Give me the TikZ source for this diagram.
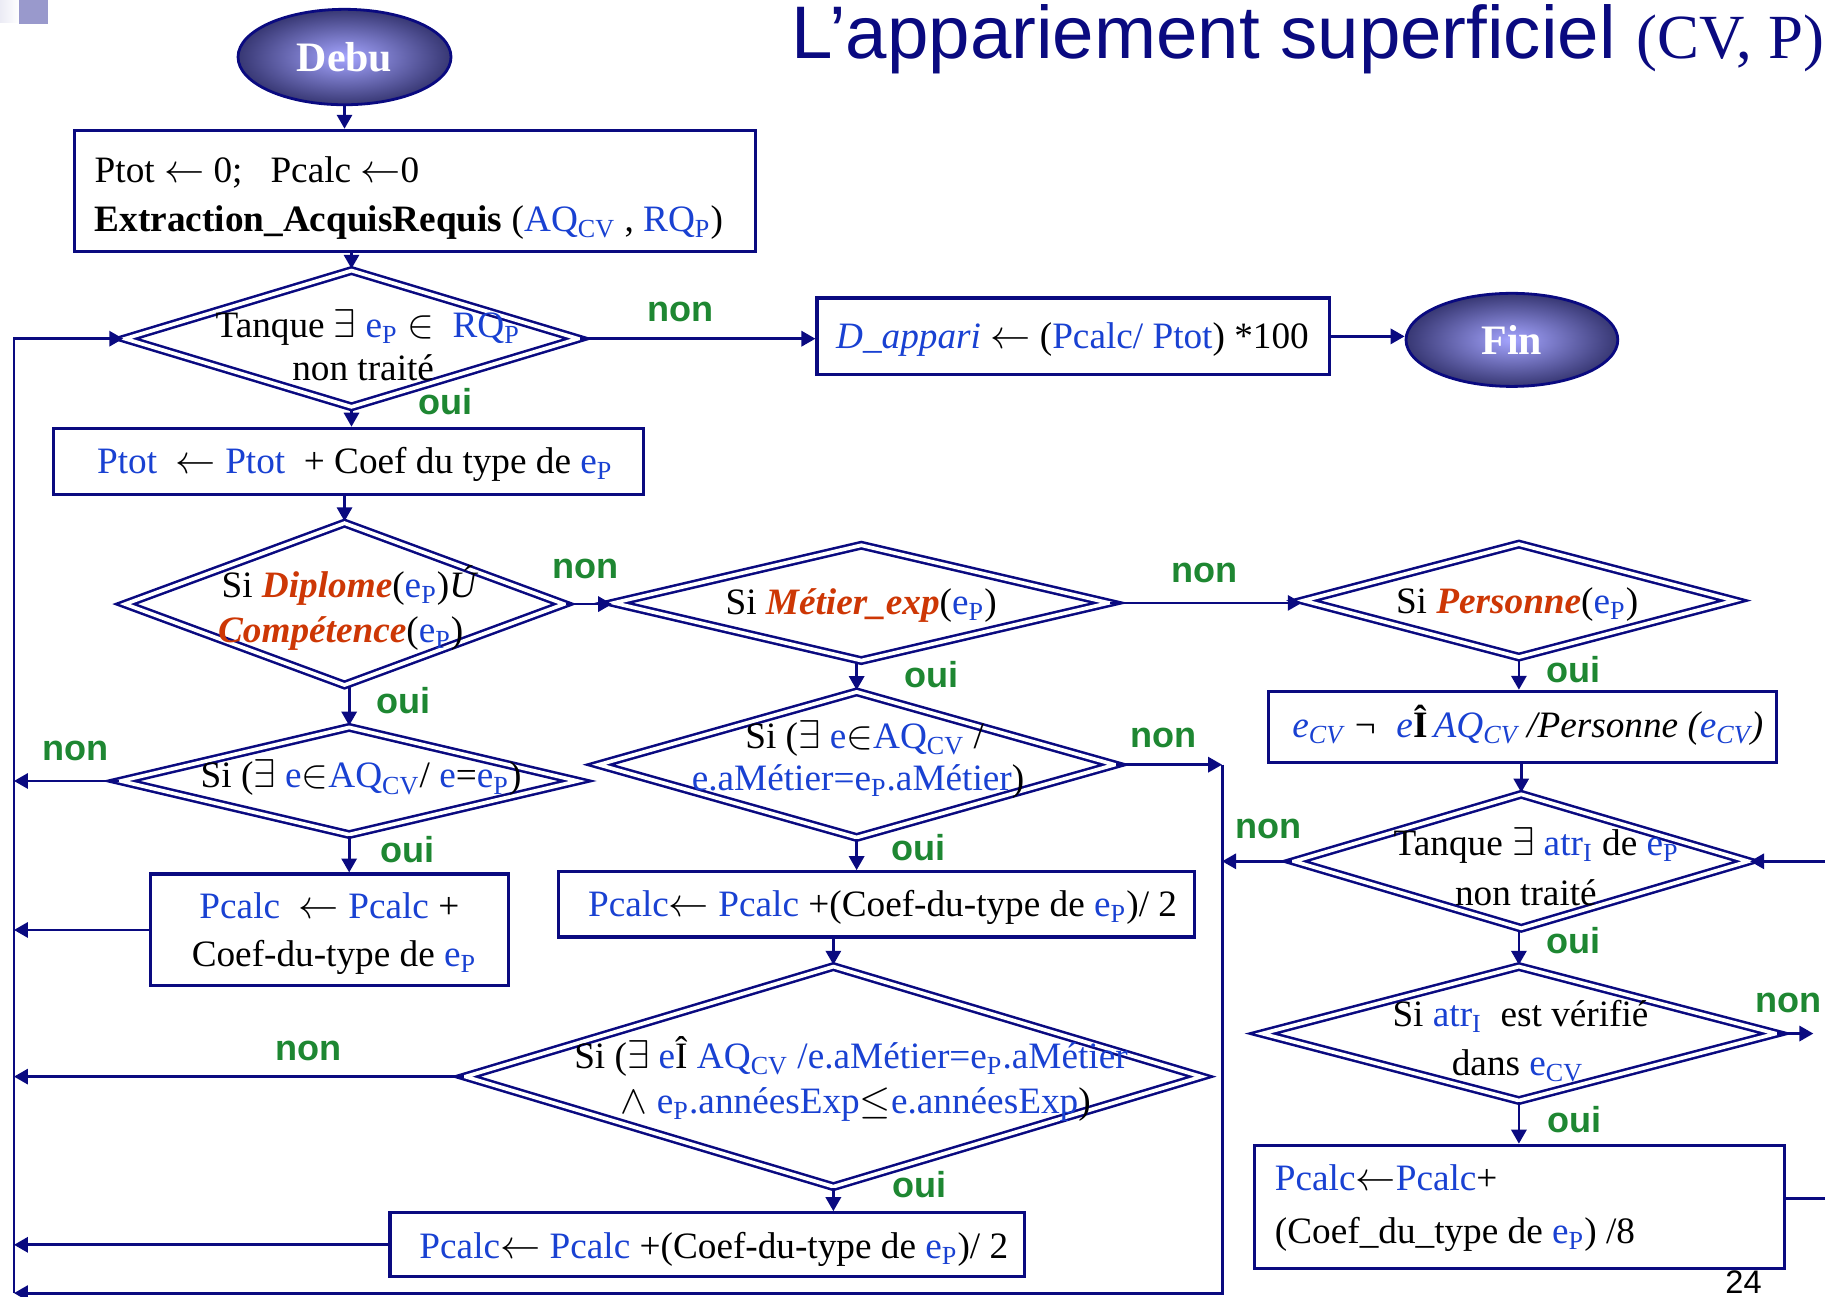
\documentclass[tikz,border=0pt]{standalone}
\usepackage{fontspec}
\setmainfont{Liberation Serif}
\newfontfamily\lsans{Liberation Sans}
\usetikzlibrary{shapes.geometric,arrows.meta}
\definecolor{nv}{RGB}{10,10,128}
\definecolor{vb}{RGB}{25,65,210}
\definecolor{orr}{RGB}{205,55,5}
\definecolor{gr}{RGB}{30,135,50}
\definecolor{termin}{RGB}{165,165,255}
\definecolor{termout}{RGB}{55,55,115}
\definecolor{deco}{RGB}{153,153,204}
\newcommand\bl[1]{\textcolor{vb}{#1}}
\newcommand\ep{\bl{e\textsubscript{P}}}
\newcommand\hot[1]{\textcolor{orr}{\textbf{\textit{#1}}}}
\begin{document}
\begin{tikzpicture}[x=0.5pt,y=-0.5pt,
  conn/.style={draw=nv,line width=1.2pt,-{Triangle[length=6pt,width=6.5pt]}},
  plain/.style={draw=nv,line width=1.2pt},
  box/.style={rectangle,draw=nv,line width=1.4pt,inner sep=0pt,fill=white},
  choice/.style={diamond,draw=nv,line width=1.1pt,double=white,double distance=1.6pt,inner sep=0pt},
  term/.style={ellipse,draw=nv,line width=1.2pt,inner sep=0pt,shading=radial,inner color=termin,outer color=termout,
    text=white,font=\bfseries\fontsize{18}{20}\selectfont},
  txt/.style={inner sep=0pt,font=\fontsize{16}{19}\selectfont},
  lab/.style={inner sep=0pt,text=gr,font=\lsans\bfseries\fontsize{15.5}{18}\selectfont},
]
\useasboundingbox (0,0) rectangle (1568,1114);

% corner ornament
\shade[left color=deco!20,right color=white] (0,0) rectangle (16.3,19);
\fill[deco] (16.3,0) rectangle (41.2,20.6);

% title
\node[anchor=base west,inner sep=0pt,text=nv,font=\lsans\fontsize{32}{36}\selectfont] (title) at (680,50)
  {L’appariement superficiel {\rmfamily\fontsize{27}{30}\selectfont (CV, P)}};

% terminals
\node[term,minimum width=91.5pt,minimum height=41pt] (debu) at (296,49) {Debu};
\node[term,minimum width=91pt,minimum height=40pt] (fin) at (1299,292) {Fin};

% process boxes
\node[box,minimum width=292.5pt,minimum height=52pt] (b1) at (356.5,164) {};
\node[box,minimum width=220pt,minimum height=33pt] (bd) at (922,289) {};
\node[box,minimum width=253.5pt,minimum height=28.5pt] (b2) at (299.5,396.5) {};
\node[box,minimum width=154pt,minimum height=48pt] (b3) at (283,799) {};
\node[box,minimum width=273pt,minimum height=28pt] (b4) at (753,777) {};
\node[box,minimum width=272.5pt,minimum height=27.5pt] (b5) at (607.5,1069.5) {};
\node[box,minimum width=218pt,minimum height=30.5pt] (b6) at (1308,624.5) {};
\node[box,minimum width=227.5pt,minimum height=53pt] (b7) at (1305.5,1037) {};

% decisions
\node[choice,minimum width=195pt,minimum height=59pt] (d1) at (302,291) {};
\node[choice,minimum width=189pt,minimum height=70pt] (d2) at (296,519) {};
\node[choice,minimum width=213pt,minimum height=50pt] (d3) at (740,518) {};
\node[choice,minimum width=185.5pt,minimum height=49pt] (d4) at (1305,516) {};
\node[choice,minimum width=195.5pt,minimum height=58pt] (d5) at (1307,740) {};
\node[choice,minimum width=221pt,minimum height=58pt] (d6) at (1305,888) {};
\node[choice,minimum width=196.5pt,minimum height=46.5pt] (d7) at (300,671) {};
\node[choice,minimum width=222pt,minimum height=63pt] (d8) at (736,657) {};
\node[choice,minimum width=316.5pt,minimum height=95pt] (d9) at (716,925) {};

% texts
\node[txt,anchor=base west] (tb1a) at (81,157) {Ptot $\leftarrow$ 0;\ \ \ Pcalc $\leftarrow$0};
\node[txt,anchor=base west] (tb1b) at (81,199) {\textbf{Extraction\_AcquisRequis} (\bl{AQ\textsubscript{CV}} , \bl{RQ\textsubscript{P}})};
\node[txt,anchor=base] (td1a) at (316,290) {Tanque $\exists$ \ep{} $\in$\ \ \bl{RQ\textsubscript{P}}};
\node[txt,anchor=base] (td1b) at (312,327) {non traité};
\node[txt,anchor=base west] (tbd) at (718,299) {\bl{\textit{D\_appari}} $\leftarrow$ (\bl{Pcalc/ Ptot}) *100};
\node[txt,anchor=base west] (tb2) at (83,407) {\bl{Ptot}\ \ $\leftarrow$ \bl{Ptot}\ \ + Coef du type de \ep};
\node[txt,anchor=base west] (td2a) at (190,513) {Si \hot{Diplome}(\ep)\textit{Ú}};
\node[txt,anchor=base west] (td2b) at (187,552) {\hot{Compétence}(\ep)};
\node[txt,anchor=base west] (td3) at (623,528) {Si \hot{Métier\_exp}(\ep)};
\node[txt,anchor=base west] (td4) at (1199,527) {Si \hot{Personne}(\ep)};
\node[txt,anchor=base west] (tb6) at (1110,634) {\itshape\bl{e\textsubscript{CV}} ¬\ \ \bl{e}\textup{\textbf{Î}}\,\bl{AQ\textsubscript{CV}} /Personne (\bl{e\textsubscript{CV}})};
\node[txt,anchor=base west] (td5a) at (1197,735) {Tanque $\exists$ \bl{atr\textsubscript{I}} de \ep};
\node[txt,anchor=base] (td5b) at (1311,778) {non traité};
\node[txt,anchor=base west] (td6a) at (1196,882) {Si \bl{atr\textsubscript{I}}\ \ est vérifié};
\node[txt,anchor=base west] (td6b) at (1247,924) {dans \bl{e\textsubscript{CV}}};
\node[txt,anchor=base west] (tb7a) at (1095,1023) {\bl{Pcalc}$\leftarrow$\bl{Pcalc}+};
\node[txt,anchor=base west] (tb7b) at (1095,1068) {(Coef\_du\_type de \ep) /8};
\node[txt,anchor=base west] (td7) at (172,677) {Si ($\exists$ \bl{e}$\in$\bl{AQ\textsubscript{CV}}/ \bl{e}=\ep)};
\node[txt,anchor=base west] (td8a) at (640,643) {Si ($\exists$ \bl{e}$\in$\bl{AQ\textsubscript{CV}} /};
\node[txt,anchor=base west] (td8b) at (594,679) {\bl{e.aMétier=e\textsubscript{P}.aMétier})};
\node[txt,anchor=base] (tb3a) at (283,789) {\bl{Pcalc}\ \ $\leftarrow$ \bl{Pcalc} +};
\node[txt,anchor=base] (tb3b) at (287,830) {Coef-du-type de \ep};
\node[txt,anchor=base west] (tb4) at (505,787) {\bl{Pcalc}$\leftarrow$ \bl{Pcalc} +(Coef-du-type de \ep)/ 2};
\node[txt,anchor=base west] (td9a) at (493,918) {Si ($\exists$ \bl{e}Î \bl{AQ\textsubscript{CV} /e.aMétier=e\textsubscript{P}.aMétier}};
\node[txt,anchor=base west] (td9b) at (533,957) {$\wedge$ \bl{e\textsubscript{P}.annéesExp}$\leq$\bl{e.annéesExp})};
\node[txt,anchor=base west] (tb5) at (360,1081) {\bl{Pcalc}$\leftarrow$ \bl{Pcalc} +(Coef-du-type de \ep)/ 2};
\node[anchor=base west,inner sep=0pt,font=\lsans\fontsize{14}{15}\selectfont] (pg) at (1482,1111) {24};

% loop rails
\coordinate (lt) at (12,291);
\coordinate (lb) at (12,1111);
\coordinate (rt) at (1050,657);
\coordinate (rb) at (1050,1111);
\coordinate (ein) at (1568,740);
\coordinate (eout) at (1558,888);
\coordinate (eback) at (1568,1030);

% connectors
\draw[conn] (debu.south) -- (debu.south |- b1.north);
\draw[conn] (d1.north |- b1.south) -- (d1.north);
\draw[conn] (d1.east) -- (d1.east -| bd.west);
\draw[conn] (bd.east) -- (bd.east -| fin.west);
\draw[conn] (d1.south) -- (d1.south |- b2.north);
\draw[conn] (d2.north |- b2.south) -- (d2.north);
\draw[conn] (d2.east) -- (d2.east -| d3.west);
\draw[conn] (d3.east) -- (d3.east -| d4.west);
\draw[conn] (d4.south) -- (d4.south |- b6.north);
\draw[conn] (d5.north |- b6.south) -- (d5.north);
\draw[conn] (d6.north |- d5.south) -- (d6.north);
\draw[conn] (d6.south) -- (d6.south |- b7.north);
\draw[conn] (d7.north |- d2.south) -- (d7.north);
\draw[conn] (d7.south) -- (d7.south |- b3.north);
\draw[conn] (d8.north |- d3.south) -- (d8.north);
\draw[conn] (d8.south) -- (d8.south |- b4.north);
\draw[conn] (d9.north |- b4.south) -- (d9.north);
\draw[conn] (d9.south) -- (d9.south |- b5.north);

\draw[conn] (lb) -- (lt) -- (d1.west);
\draw[conn] (d7.west) -- (d7.west -| lt);
\draw[conn] (b3.west) -- (b3.west -| lt);
\draw[conn] (d9.west) -- (d9.west -| lt);
\draw[conn] (b5.west) -- (b5.west -| lt);
\draw[conn] (d8.east) -- (d8.east -| rt);
\draw[conn] (d5.west) -- (d5.west -| rt);
\draw[conn] (rt) -- (rb) -- (lb);
\draw[conn] (ein) -- (d5.east);
\draw[conn] (d6.east) -- (eout);
\draw[plain] (eback -| b7.east) -- (eback);

% branch labels
\node[lab] (l1) at (585,268) {non};
\node[lab] (l2) at (383,345) {oui};
\node[lab] (l3) at (503,489) {non};
\node[lab] (l4) at (1035,492) {non};
\node[lab] (l5) at (1352,575) {oui};
\node[lab] (l6) at (347,602) {oui};
\node[lab] (l7) at (800,580) {oui};
\node[lab] (l8) at (65,645) {non};
\node[lab] (l9) at (1000,634) {non};
\node[lab] (l10) at (350,730) {oui};
\node[lab] (l11) at (789,728) {oui};
\node[lab] (l12) at (1090,712) {non};
\node[lab] (l13) at (1352,808) {oui};
\node[lab] (l14) at (1537,862) {non};
\node[lab] (l15) at (1353,962) {oui};
\node[lab] (l16) at (265,903) {non};
\node[lab] (l17) at (790,1018) {oui};
\end{tikzpicture}
\end{document}
